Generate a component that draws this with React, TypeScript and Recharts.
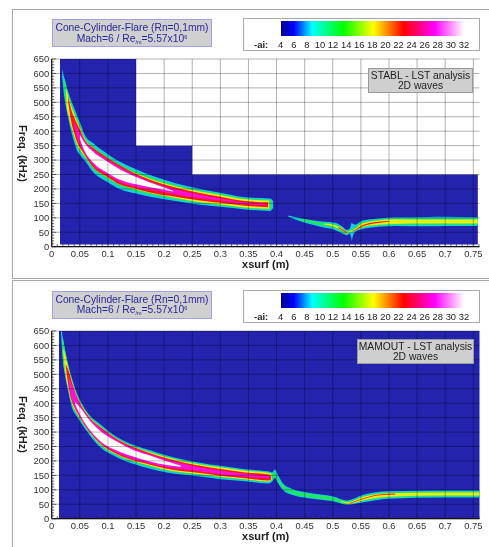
import { Area, CartesianGrid, ComposedChart, XAxis, YAxis } from 'recharts';

type Row = [number, number, number]; // xsurf, low kHz, high kHz

const colorbarLabels = [4, 6, 8, 10, 12, 14, 16, 18, 20, 22, 24, 26, 28, 30, 32];
const xMajor = [0, 0.05, 0.1, 0.15, 0.2, 0.25, 0.3, 0.35, 0.4, 0.45, 0.5, 0.55, 0.6, 0.65, 0.7, 0.75];
const yMajor = [0, 50, 100, 150, 200, 250, 300, 350, 400, 450, 500, 550, 600, 650];
const xAll = Array.from({ length: 77 }, (_, i) => +(i * 0.01).toFixed(2));
const yAll = Array.from({ length: 66 }, (_, i) => i * 10);

const stablDomain: Row[] = [[0.0148, 8, 650], [0.15, 8, 350], [0.25, 8, 250], [0.758, 8, 250]];
const mamoutDomain: Row[] = [[0.013, 0, 650], [0.761, 0, 650]];

// STABL, main lobe
const stablCyan: Row[] = [
  [0.0185, 590, 615], [0.021, 540, 595], [0.0237, 502, 578], [0.0265, 472, 556], [0.0296, 444, 535],
  [0.0356, 392, 502], [0.04, 362, 480], [0.0445, 335, 458], [0.05, 318, 432], [0.059, 298, 387],
  [0.074, 258, 358], [0.098, 225, 323], [0.1215, 199, 294], [0.15, 184, 268], [0.175, 173, 248],
  [0.22, 158, 220], [0.264, 145, 200], [0.3, 138, 187], [0.344, 129, 171], [0.388, 124, 167], [0.394, 134, 158],
];
const stablGreen: Row[] = [
  [0.021, 570, 580], [0.0237, 512, 571], [0.0265, 481, 548], [0.0296, 453, 527], [0.0356, 403, 492],
  [0.04, 374, 470], [0.0445, 347, 447], [0.05, 329, 422], [0.059, 307, 379], [0.074, 268, 349],
  [0.098, 235, 314], [0.1215, 209, 285], [0.15, 192, 260], [0.175, 181, 241], [0.22, 164, 214],
  [0.264, 151, 195], [0.3, 143, 183], [0.344, 133, 167], [0.39, 128, 163],
];
const stablYellow: Row[] = [
  [0.0254, 540, 548], [0.0265, 490, 542], [0.0296, 459, 520], [0.0356, 411, 483], [0.04, 382, 460],
  [0.0445, 356, 437], [0.05, 337, 413], [0.059, 313, 372], [0.074, 275, 341], [0.098, 242, 306],
  [0.1215, 215, 278], [0.15, 198, 254], [0.175, 186, 235], [0.22, 169, 209], [0.264, 154, 191],
  [0.3, 146, 179], [0.344, 136, 164], [0.387, 131, 160],
];
const stablRed: Row[] = [
  [0.0296, 498, 522], [0.0356, 425, 469], [0.04, 394, 448], [0.0445, 365, 428], [0.05, 344, 406],
  [0.059, 317, 369], [0.074, 275, 342], [0.098, 243, 309], [0.1215, 215, 281], [0.15, 201, 252],
  [0.175, 188, 232], [0.22, 173, 205], [0.264, 160, 186], [0.3, 152, 173], [0.344, 142, 158], [0.385, 137, 154],
];
const stablMagenta: Row[] = [
  [0.04, 422, 432], [0.0445, 383, 413], [0.05, 354, 396], [0.059, 322, 365], [0.074, 283, 336],
  [0.098, 250, 303], [0.1215, 224, 274], [0.15, 207, 247], [0.175, 198, 225], [0.22, 182, 199],
  [0.264, 168, 180], [0.3, 160, 167], [0.344, 148, 153], [0.38, 144, 149],
];
const stablWhite: Row[] = [
  [0.05, 374, 388], [0.059, 330, 358], [0.074, 291, 328], [0.098, 257, 296], [0.1215, 232, 267],
  [0.15, 216, 241], [0.175, 206, 222], [0.2, 197, 205], [0.215, 191, 195],
];

// STABL, flare part
const stablFlareCyan: Row[] = [
  [0.421, 104, 108], [0.445, 86, 98], [0.48, 68, 87], [0.504, 58, 83], [0.517, 46, 70], [0.525, 40, 58],
  [0.53, 46, 62], [0.533, 30, 80], [0.534, 20, 84], [0.535, 32, 80], [0.54, 52, 76], [0.5516, 60, 90],
  [0.581, 69, 98], [0.611, 72, 102], [0.67, 71, 103], [0.7, 72, 104], [0.758, 72, 102],
];
const stablFlareGreen: Row[] = [
  [0.44, 92, 96], [0.45, 88, 94], [0.48, 73, 84], [0.504, 65, 78], [0.517, 51, 66], [0.525, 44, 54],
  [0.53, 50, 56], [0.54, 54, 68], [0.5516, 64, 84], [0.581, 73, 94], [0.611, 76, 98], [0.67, 76, 98], [0.758, 76, 98],
];
const stablFlareYellow: Row[] = [
  [0.485, 77, 80], [0.504, 68, 74], [0.517, 55, 63], [0.525, 47, 52], [0.53, 50, 54], [0.54, 56, 62],
  [0.5516, 67, 80], [0.581, 76, 91], [0.611, 79, 95], [0.67, 80, 94], [0.758, 80, 94],
];
const stablFlareRedA: Row[] = [[0.51, 64, 68], [0.517, 57, 60], [0.525, 47, 50]];
const stablFlareRedB: Row[] = [[0.535, 54, 56], [0.54, 56, 59], [0.5516, 69, 73], [0.581, 82, 86], [0.6, 86, 89]];

// MAMOUT
const mamoutCyan: Row[] = [
  [0.0165, 645, 650], [0.018, 595, 648], [0.0196, 554, 628], [0.0237, 496, 587], [0.0296, 438, 532],
  [0.0367, 381, 482], [0.0427, 360, 445], [0.0534, 328, 400], [0.068, 288, 357], [0.0859, 248, 328],
  [0.1157, 213, 283], [0.145, 190, 256], [0.175, 173, 237], [0.2046, 160, 219], [0.264, 146, 194],
  [0.3, 137, 183], [0.344, 130, 171], [0.385, 122, 164], [0.392, 128, 160], [0.397, 142, 170],
  [0.403, 122, 150], [0.412, 98, 121], [0.427, 83, 104], [0.4566, 71, 90], [0.501, 60, 77], [0.525, 48, 63],
  [0.5545, 57, 83], [0.599, 69, 95], [0.7, 73, 98], [0.761, 73, 98],
];
const mamoutGreen: Row[] = [
  [0.019, 598, 612], [0.0196, 561, 624], [0.0237, 504, 581], [0.0296, 446, 527], [0.0367, 390, 476],
  [0.0427, 367, 440], [0.0534, 334, 395], [0.068, 294, 353], [0.0859, 255, 323], [0.1157, 219, 279],
  [0.145, 196, 252], [0.175, 179, 233], [0.2046, 166, 215], [0.264, 151, 190], [0.3, 142, 180],
  [0.344, 135, 168], [0.385, 127, 161], [0.392, 132, 155], [0.396, 146, 162], [0.4, 137, 150],
  [0.412, 104, 115], [0.427, 88, 99], [0.4566, 75, 86], [0.501, 63, 73], [0.525, 51, 60],
  [0.5545, 61, 79], [0.599, 73, 91], [0.7, 77, 94], [0.761, 77, 94],
];
const mamoutYellow: Row[] = [
  [0.0205, 578, 590], [0.0237, 514, 571], [0.0296, 452, 522], [0.0367, 395, 471], [0.0427, 372, 436],
  [0.0534, 338, 392], [0.068, 298, 350], [0.0859, 259, 320], [0.1157, 222, 277], [0.145, 200, 249],
  [0.175, 183, 230], [0.2046, 169, 213], [0.264, 154, 188], [0.3, 145, 178], [0.344, 137, 166],
  [0.385, 129, 159], [0.391, 135, 156],
];
const mamoutFlareYellow: Row[] = [
  [0.515, 58, 62], [0.525, 53, 57], [0.53, 52, 58], [0.5545, 64, 76], [0.599, 76, 88], [0.7, 80, 91], [0.761, 80, 91],
];
const mamoutRed: Row[] = [
  [0.025, 527, 535], [0.0296, 462, 514], [0.0367, 402, 467], [0.0427, 377, 433], [0.0534, 340, 389],
  [0.068, 299, 348], [0.0859, 261, 318], [0.1157, 224, 276], [0.145, 202, 248], [0.175, 187, 227],
  [0.2046, 173, 209], [0.264, 158, 183], [0.3, 149, 172], [0.344, 140, 160], [0.385, 132, 153], [0.39, 136, 150],
];
const mamoutFlareRed: Row[] = [[0.53, 52, 54], [0.5545, 68, 71], [0.58, 80, 83], [0.611, 84, 87]];
const mamoutMagenta: Row[] = [
  [0.0296, 476, 486], [0.0367, 409, 460], [0.0427, 378, 430], [0.0534, 343, 385], [0.068, 301, 345],
  [0.0859, 264, 314], [0.1157, 229, 272], [0.145, 206, 244], [0.175, 191, 223], [0.2046, 178, 205],
  [0.264, 164, 178], [0.3, 154, 167], [0.344, 145, 156], [0.388, 140, 147],
];
const mamoutWhite: Row[] = [
  [0.0415, 396, 404], [0.0534, 349, 378], [0.068, 307, 339], [0.0859, 269, 305], [0.1157, 236, 267],
  [0.145, 215, 238], [0.175, 198, 219], [0.2046, 186, 199], [0.23, 179, 183],
];

const CYAN = '#12d0dc';
const GREEN = '#20e858';
const YELLOW = '#e6ee18';
const RED = '#ff1420';
const MAGENTA = '#ff10d8';
const WHITE = '#ffffff';
const BLUE = '#2323ad';

const toBand = (rows: Row[]) => rows.map(([x, low, high]) => ({ x, band: [low, high] }));

const XTick = ({ x, y, payload }: any) => {
  const major = xMajor.includes(payload.value);
  return (
    <g>
      <line x1={x} x2={x} y1={y} y2={y - (major ? 4.5 : 2.5)} stroke="#222" strokeWidth={0.7} />
      {major && <text x={x} y={y + 10} textAnchor="middle" fontSize={9.4} fill="#333">{String(payload.value)}</text>}
    </g>
  );
};

const YTick = ({ x, y, payload }: any) => {
  const major = yMajor.includes(payload.value);
  return (
    <g>
      <line x1={x} x2={x + (major ? 4.5 : 2.5)} y1={y} y2={y} stroke="#222" strokeWidth={0.7} />
      {major && <text x={x - 2.5} y={y + 3.4} textAnchor="end" fontSize={9.4} fill="#333">{payload.value}</text>}
    </g>
  );
};

const Plot = ({ domainRows, bands }: { domainRows: Row[]; bands: [Row[], string][] }) => (
  <ComposedChart
    width={489}
    height={272}
    margin={{ top: 59, right: 9.5, bottom: 5.3, left: 21.7 }}
    style={{ position: 'absolute', left: 0, top: 0 }}
  >
    <XAxis
      type="number"
      dataKey="x"
      domain={[0, 0.761]}
      ticks={xAll}
      interval={0}
      tick={<XTick />}
      tickLine={false}
      tickSize={0}
      tickMargin={0}
      height={20}
      axisLine={{ stroke: '#111', strokeWidth: 1.2 }}
      label={{ value: 'xsurf (m)', position: 'insideBottom', offset: -1, fontSize: 11, fontWeight: 700, fill: '#222' }}
    />
    <XAxis xAxisId="top" orientation="top" type="number" domain={[0, 0.761]} tick={false} tickLine={false} height={0} axisLine={{ stroke: '#111', strokeWidth: 1.2 }} />
    <YAxis
      type="number"
      domain={[0, 650]}
      ticks={yAll}
      interval={0}
      tick={<YTick />}
      tickLine={false}
      tickSize={0}
      tickMargin={0}
      width={30}
      axisLine={{ stroke: '#111', strokeWidth: 1.2 }}
    />
    <YAxis yAxisId="right" orientation="right" type="number" domain={[0, 650]} tick={false} tickLine={false} width={0} axisLine={{ stroke: '#111', strokeWidth: 1.2 }} />
    <Area data={toBand(domainRows)} dataKey="band" type="stepAfter" fill={BLUE} fillOpacity={1} stroke="none" dot={false} activeDot={false} isAnimationActive={false} />
    {bands.map(([rows, color], i) => (
      <Area key={i} data={toBand(rows)} dataKey="band" type="monotoneX" fill={color} fillOpacity={1} stroke="none" dot={false} activeDot={false} isAnimationActive={false} />
    ))}
    <CartesianGrid zIndex={200} verticalValues={xMajor} horizontalValues={yMajor} stroke="#000" strokeOpacity={0.3} strokeWidth={1} />
  </ComposedChart>
);

const Sub = ({ children }: { children: string }) => <span style={{ fontSize: 5.5, lineHeight: 0, verticalAlign: -2 }}>{children}</span>;
const Sup = ({ children }: { children: string }) => <span style={{ fontSize: 5.5, lineHeight: 0, verticalAlign: 3 }}>{children}</span>;

const TitleBox = () => (
  <div style={{ position: 'absolute', left: 52, top: 19, width: 160, height: 28, boxSizing: 'border-box', background: '#d0d0d0', border: '1px solid #a0a0e4', color: '#27279c', fontSize: 10.3, lineHeight: '10.5px', textAlign: 'center', paddingTop: 3, whiteSpace: 'nowrap' }}>
    Cone-Cylinder-Flare (Rn=0,1mm)<br />
    Mach=6 / Re<Sub>/m</Sub>=5.57x10<Sup>6</Sup>
  </div>
);

const ColorBar = () => (
  <div style={{ position: 'absolute', left: 243, top: 18, width: 237, height: 33, boxSizing: 'border-box', background: '#fff', border: '1px solid #aaa' }}>
    <div style={{ position: 'absolute', left: 36.7, top: 2, width: 183.3, height: 15, background: 'linear-gradient(to right, #00008c 0%, #0000ff 7%, #00ffff 17%, #00ff00 34%, #ffff00 50.5%, #ff0000 67%, #ff00ff 84%, #ffffff 100%)' }} />
    <span style={{ position: 'absolute', left: 10, top: 20, fontSize: 9.5, fontWeight: 700, color: '#222' }}>-ai:</span>
    {colorbarLabels.map((v, i) => (
      <span key={v} style={{ position: 'absolute', left: 36.7 + i * 13.09, top: 20, transform: 'translateX(-50%)', fontSize: 9.4, color: '#222' }}>{v}</span>
    ))}
  </div>
);

const NoteBox = ({ left, width, top, line1 }: { left: number; width: number; top: number; line1: string }) => (
  <div style={{ position: 'absolute', left, top, width, height: 25, boxSizing: 'border-box', background: '#cfcfcf', border: '1px solid #999', color: '#222', fontSize: 10.3, lineHeight: '10.3px', textAlign: 'center', paddingTop: 2, whiteSpace: 'nowrap' }}>
    {line1}<br />2D waves
  </div>
);

const FreqLabel = () => (
  <div style={{ position: 'absolute', left: 16, top: 123, height: 60, width: 14, writingMode: 'vertical-rl', textAlign: 'center', fontSize: 11, lineHeight: '14px', fontWeight: 700, color: '#222', whiteSpace: 'nowrap' }}>
    Freq. (kHz)
  </div>
);

const stablBands: [Row[], string][] = [
  [stablCyan, CYAN], [stablGreen, GREEN], [stablYellow, YELLOW], [stablRed, RED], [stablMagenta, MAGENTA], [stablWhite, WHITE],
  [stablFlareCyan, CYAN], [stablFlareGreen, GREEN], [stablFlareYellow, YELLOW], [stablFlareRedA, RED], [stablFlareRedB, RED],
];
const mamoutBands: [Row[], string][] = [
  [mamoutCyan, CYAN], [mamoutGreen, GREEN], [mamoutYellow, YELLOW], [mamoutFlareYellow, YELLOW], [mamoutRed, RED], [mamoutFlareRed, RED], [mamoutMagenta, MAGENTA], [mamoutWhite, WHITE],
];

export default function App() {
  return (
    <div style={{ position: 'absolute', left: 0, top: 0, width: 489, height: 547, overflow: 'hidden', background: '#fff', fontFamily: '"Liberation Sans", Arial, sans-serif', filter: 'blur(0.45px)' }}>
      <div style={{ position: 'absolute', left: 12, top: 8.5, width: 480, height: 268, border: '1px solid #aaa' }} />
      <div style={{ position: 'absolute', left: 12, top: 280, width: 480, height: 280, border: '1px solid #aaa' }} />
      <div style={{ position: 'absolute', left: 0, top: 0, width: 489, height: 272 }}>
        <TitleBox />
        <ColorBar />
        <FreqLabel />
        <Plot domainRows={stablDomain} bands={stablBands} />
        <NoteBox left={368} width={105} top={67.5} line1="STABL - LST analysis" />
      </div>
      <div style={{ position: 'absolute', left: 0, top: 271.7, width: 489, height: 272 }}>
        <TitleBox />
        <ColorBar />
        <FreqLabel />
        <Plot domainRows={mamoutDomain} bands={mamoutBands} />
        <NoteBox left={357} width={117} top={67.5} line1="MAMOUT - LST analysis" />
      </div>
    </div>
  );
}
